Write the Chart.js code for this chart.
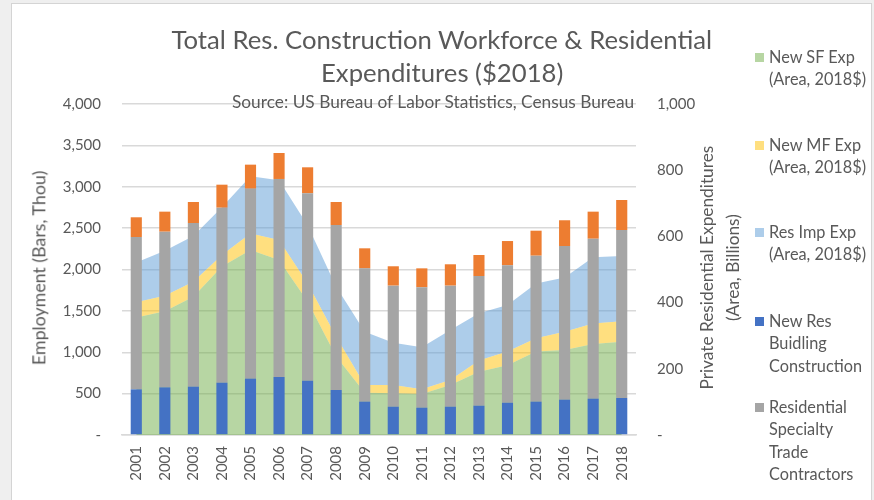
<!DOCTYPE html>
<html>
<head>
<meta charset="utf-8">
<script src="https://cdn.jsdelivr.net/npm/chart.js@4"></script>
<style>
html,body{margin:0;padding:0;width:874px;height:500px;overflow:hidden;background:#efefef;font-family:Lato,"Open Sans",sans-serif;}
#panel{position:absolute;left:11px;top:3px;width:859px;height:520px;background:#fff;border:1px solid #d4d4d4;}
#c{position:absolute;left:0;top:0;}
.t{position:absolute;color:#595959;white-space:nowrap;line-height:1;}
.leg{position:absolute;color:#595959;font-size:16.3px;line-height:22.5px;white-space:nowrap;}
.box{position:absolute;width:9px;height:9px;}
</style>
</head>
<body>
<div id="panel"></div>
<canvas id="c" width="874" height="500"></canvas>
<div id="overlay"></div>
<script>
// ---- data ----
const years = ['2001','2002','2003','2004','2005','2006','2007','2008','2009','2010','2011','2012','2013','2014','2015','2016','2017','2018'];
// Areas (right axis, $ billions, 2018$)
const newSFExp  = [355,374,418,509,559,529,403,237,128,126,124,151,191,211,252,257,275,282];
const newMFExp  = [46,47,45,35,50,60,55,60,23,25,14,15,34,41,40,55,62,62];
const resImpExp = [120,136,138,144,173,181,176,151,161,128,127,151,143,141,166,164,200,197];
// Bars (left axis, thousands of workers)
const newResBuilding   = [552,576,584,632,681,701,656,544,403,342,330,342,354,390,403,427,439,447];
const specialtyTrade   = [1841,1881,1978,2115,2296,2393,2265,1994,1611,1463,1455,1463,1567,1661,1764,1857,1933,2030];
const otherResWorkers  = [238,242,254,278,290,314,314,278,242,234,229,258,254,293,302,311,327,363];
// Axis ticks
const leftTickStep = 500, leftMax = 4000;
const rightTickStep = 200, rightMax = 1000;
// Legend labels (wrapped lines)
const legendLines = [
  ['New SF Exp','(Area, 2018$)'],
  ['New MF Exp','(Area, 2018$)'],
  ['Res Imp Exp','(Area, 2018$)'],
  ['New Res','Buidling','Construction'],
  ['Residential','Specialty','Trade','Contractors']
];

const txt = '#595959';
const fontFam = 'Lato';
const fmt = v => v === 0 ? '-' : v.toLocaleString('en-US');

const chart = new Chart(document.getElementById('c'), {
  type: 'bar',
  data: {
    labels: years,
    datasets: [
      {type:'line', label: legendLines[0].join(' '), data: newSFExp, yAxisID:'y2', stack:'areas', order:2,
       fill:'origin', backgroundColor:'rgba(112,173,71,0.5)', borderWidth:0, pointRadius:0, tension:0},
      {type:'line', label: legendLines[1].join(' '), data: newMFExp, yAxisID:'y2', stack:'areas', order:2,
       fill:'-1', backgroundColor:'rgba(255,192,0,0.5)', borderWidth:0, pointRadius:0, tension:0},
      {type:'line', label: legendLines[2].join(' '), data: resImpExp, yAxisID:'y2', stack:'areas', order:2,
       fill:'-1', backgroundColor:'rgba(91,155,213,0.5)', borderWidth:0, pointRadius:0, tension:0},
      {label: legendLines[3].join(' '), data: newResBuilding, yAxisID:'y', stack:'bars', order:1,
       backgroundColor:'#4472C4', barPercentage:0.39, categoryPercentage:1},
      {label: legendLines[4].join(' '), data: specialtyTrade, yAxisID:'y', stack:'bars', order:1,
       backgroundColor:'#A5A5A5', barPercentage:0.39, categoryPercentage:1},
      {label: 'Other', data: otherResWorkers, yAxisID:'y', stack:'bars', order:1,
       backgroundColor:'#ED7D31', barPercentage:0.39, categoryPercentage:1}
    ]
  },
  options: {
    responsive:false, animation:false,
    layout:{padding:{left:0,right:0,top:104,bottom:0}},
    plugins:{legend:{display:false}, tooltip:{enabled:false}},
    scales:{
      x:{stacked:true, offset:true,
         grid:{display:false, drawTicks:false},
         border:{display:true, color:'#d9d9d9', width:1.5},
         ticks:{color:txt, font:{family:fontFam,size:15}, minRotation:90, maxRotation:90, padding:11, autoSkip:false},
         afterFit(s){ s.height = 65; }},
      y:{position:'left', stacked:true, min:0, max:leftMax,
         ticks:{stepSize:leftTickStep, padding:21, color:txt, font:{family:fontFam,size:15}, callback:fmt},
         grid:{color:'#d9d9d9', lineWidth:1.5, drawTicks:false},
         border:{display:false},
         afterFit(s){ s.width = 122; }},
      y2:{position:'right', stacked:true, min:0, max:rightMax,
         ticks:{stepSize:rightTickStep, padding:21, color:txt, font:{family:fontFam,size:15}, callback:fmt},
         grid:{display:false, drawTicks:false},
         border:{display:false},
         afterFit(s){ s.width = 238; }}
    }
  }
});

// ---- text overlays: title, subtitle, axis titles, legend ----
const ov = document.getElementById('overlay');
function addText(html, css){
  const d = document.createElement('div');
  d.className = 't';
  d.innerHTML = html;
  Object.assign(d.style, css);
  ov.appendChild(d);
  return d;
}
function centerAt(d, cx, cy, rot){
  const w = d.offsetWidth, h = d.offsetHeight;
  d.style.left = (cx - w/2) + 'px';
  d.style.top = (cy - h/2) + 'px';
  if (rot) d.style.transform = 'rotate(' + rot + 'deg)';
}
centerAt(addText('Total Res. Construction Workforce &amp; Residential', {fontSize:'25.7px'}), 442, 40);
centerAt(addText('Expenditures ($2018)', {fontSize:'25.7px'}), 442, 73);
centerAt(addText('Source: US Bureau of Labor Statistics, Census Bureau', {fontSize:'17.3px'}), 433, 101);
centerAt(addText('Employment (Bars, Thou)', {fontSize:'17.8px'}), 39, 268, -90);
centerAt(addText('Private Residential Expenditures', {fontSize:'17.3px'}), 707, 267, -90);
centerAt(addText('(Area, Billions)', {fontSize:'17.3px'}), 732, 267, -90);

const legendFirstY = [57, 145, 232, 321, 407];
legendLines.forEach((lines, i) => {
  const ds = chart.data.datasets[i];
  const b = document.createElement('div');
  b.className = 'box';
  b.style.left = '755px';
  b.style.top = (legendFirstY[i] - 4.5) + 'px';
  b.style.background = ds.backgroundColor;
  ov.appendChild(b);
  const t = document.createElement('div');
  t.className = 'leg';
  t.style.left = '769px';
  t.style.top = (legendFirstY[i] - 11.25) + 'px';
  t.innerHTML = lines.join('<br>');
  ov.appendChild(t);
});
</script>
</body>
</html>
